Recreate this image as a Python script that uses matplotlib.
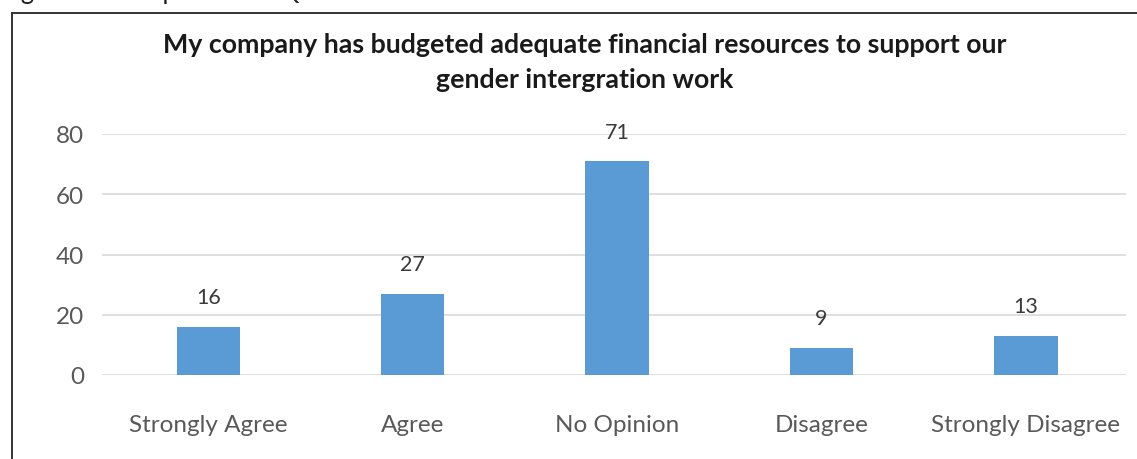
import matplotlib
matplotlib.use("Agg")
import matplotlib.pyplot as plt
from matplotlib.lines import Line2D

categories = ["Strongly Agree", "Agree", "No Opinion", "Disagree", "Strongly Disagree"]
responses = [16, 27, 71, 9, 13]
y_ticks = [0, 20, 40, 60, 80]
title = "My company has budgeted adequate financial resources to support our\ngender intergration work"
caption = "Figure 11: Responses to Question 10"

plt.rcParams["font.family"] = ["Lato", "DejaVu Sans"]

W, H = 1137, 460
fig = plt.figure(figsize=(W / 100, H / 100), dpi=100)
fig.patch.set_facecolor("white")

ax = fig.add_axes([102 / W, (H - 376) / H, (1126 - 102) / W, (376 - 135) / H])

x = range(len(categories))
bars = ax.bar(x, responses, width=0.31, color="#5B9BD5", zorder=3)
for rect, v in zip(bars, responses):
    ax.annotate(str(v), (rect.get_x() + rect.get_width() / 2, v),
                xytext=(0, 14), textcoords="offset points",
                ha="center", va="bottom", fontsize=15.5, color="#3a3a3a")

ax.set_xlim(-0.52, 4.49)
ax.set_ylim(0, 80)
ax.set_yticks(y_ticks)
ax.set_xticks(list(x))
ax.set_xticklabels(categories)
ax.tick_params(axis="both", length=0, labelsize=17.5, labelcolor="#595959")
ax.tick_params(axis="x", pad=28)
ax.tick_params(axis="y", pad=13)
ax.grid(axis="y", color="#D9D9D9", linewidth=1.2, zorder=0)
for s in ax.spines.values():
    s.set_visible(False)

line1, line2 = title.split("\n")
fig.text(585 / W, 1 - 45 / H, line1, ha="center", va="center",
         fontsize=19.3, fontweight="bold", color="#1a1a1a")
fig.text(585 / W, 1 - 80 / H, line2, ha="center", va="center",
         fontsize=19.3, fontweight="bold", color="#1a1a1a")

# frame around the chart area
fig.add_artist(Line2D([12 / W, 12 / W], [0, 1 - 14 / H],
                      color="#333333", linewidth=1.4))
fig.add_artist(Line2D([12 / W, 1], [1 - 14 / H, 1 - 14 / H],
                      color="#333333", linewidth=1.4))

# caption line above the frame (runs off the top edge)
fig.text(0 / W, 1 + 1 / H, caption, ha="left", va="baseline",
         fontsize=18.5, color="#222222")

fig.savefig("out.png", dpi=100)
